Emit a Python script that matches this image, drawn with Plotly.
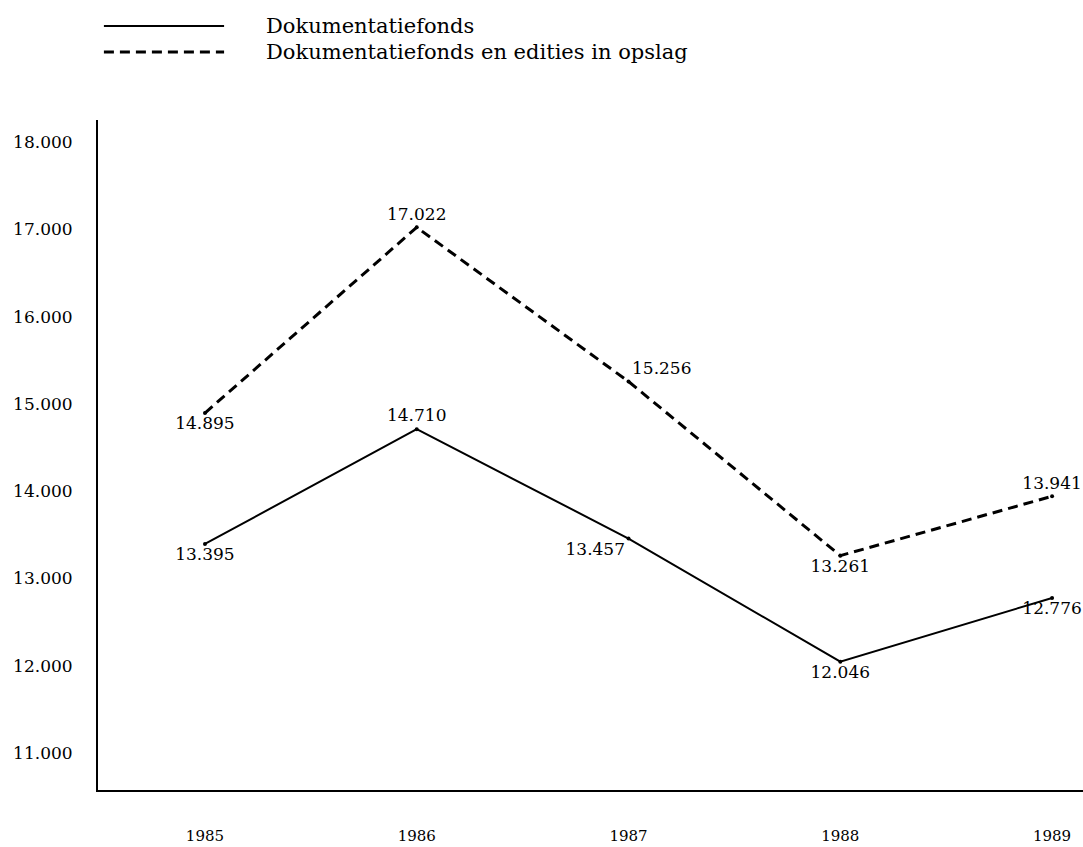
import plotly.graph_objects as go

years = [1985, 1986, 1987, 1988, 1989]
fonds = [13395, 14710, 13457, 12046, 12776]
fonds_opslag = [14895, 17022, 15256, 13261, 13941]
y_ticks = [11000, 12000, 13000, 14000, 15000, 16000, 17000, 18000]
name_fonds = "Dokumentatiefonds"
name_opslag = "Dokumentatiefonds en edities in opslag"

FONT = "DejaVu Serif"
SOLID = dict(color="black", width=2)
DASHED = dict(color="black", width=3, dash="10px,6px")

fig = go.Figure()
fig.add_trace(go.Scatter(
    x=years, y=fonds, name=name_fonds,
    mode="lines+markers+text",
    line=SOLID,
    marker=dict(color="black", size=4),
    texttemplate="%{y:,d}",
    textposition=["bottom center", "top center", "bottom left", "bottom center", "bottom center"],
    textfont=dict(family=FONT, size=17, color="black"),
    cliponaxis=False,
    showlegend=False,
))
fig.add_trace(go.Scatter(
    x=years, y=fonds_opslag, name=name_opslag,
    mode="lines+markers+text",
    line=DASHED,
    marker=dict(color="black", size=4),
    texttemplate="%{y:,d}",
    textposition=["bottom center", "top center", "top right", "bottom center", "top center"],
    textfont=dict(family=FONT, size=17, color="black"),
    cliponaxis=False,
    showlegend=False,
))

# legend drawn as line samples and text above the plot
legend_rows = [(name_fonds, SOLID, 1.1403), (name_opslag, DASHED, 1.1015)]
shapes = []
annotations = []
for name, style, ypos in legend_rows:
    shapes.append(dict(type="line", xref="paper", yref="paper",
                       x0=0.006, x1=0.128, y0=ypos, y1=ypos,
                       line=style))
    annotations.append(dict(text=name, xref="paper", yref="paper",
                            x=0.169, y=ypos, xanchor="left", yanchor="middle",
                            showarrow=False,
                            font=dict(family=FONT, size=21, color="black")))

fig.update_layout(
    width=1083, height=847,
    paper_bgcolor="white", plot_bgcolor="white",
    separators=",.",
    margin=dict(l=98, r=0, t=120, b=57),
    font=dict(family=FONT, size=17, color="black"),
    showlegend=False,
    hovermode=False,
    shapes=shapes,
    annotations=annotations,
    xaxis=dict(
        range=[1984.495, 1989.146],
        tickvals=years, ticktext=[str(y) for y in years],
        showgrid=False, zeroline=False,
        showline=True, linecolor="black", linewidth=2,
        ticks="", ticklabelstandoff=31,
        tickfont=dict(family=FONT, size=15, color="black"),
    ),
    yaxis=dict(
        range=[10576, 18252],
        tickvals=y_ticks, tickformat=",d",
        showgrid=False, zeroline=False,
        showline=True, linecolor="black", linewidth=2,
        ticks="", ticklabelstandoff=20,
        tickfont=dict(family=FONT, size=17, color="black"),
    ),
)

fig.write_html(
    "out.html",
    config={"displayModeBar": False},
    post_script="document.body.style.margin='0';document.body.style.overflow='hidden';",
)
